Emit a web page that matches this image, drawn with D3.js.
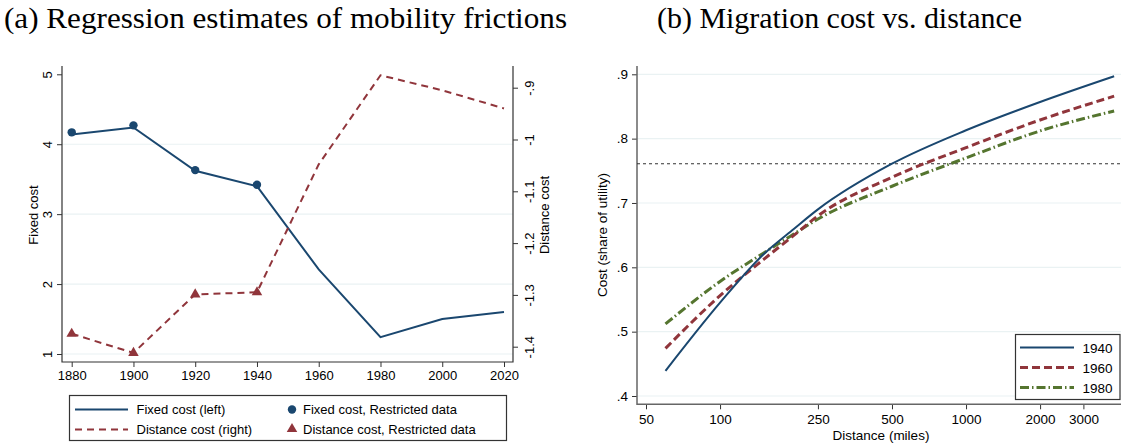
<!DOCTYPE html>
<html>
    <head>
        <meta charset="utf-8">
        <style>
            html, body {
                margin: 0px;
                padding: 0px;
                background-color: #fff;
            }
            svg text {
                font-family: "Liberation Sans", Arial, sans-serif;
                fill: #000;
            }
            svg text.title {
                font-family: "Liberation Serif", "DejaVu Serif", serif;
                font-size: 30px;
            }
            .tick line { stroke: #333; }
            .grid line { stroke: #eaf2f3; stroke-width: 1.2; }
        </style>
        <script src="https://d3js.org/d3.v7.min.js"></script>
    </head>
    <body>
        <div id="main"></div>
        <script>
            // panel (a): regression estimates
            var years = [1880, 1900, 1920, 1940, 1960, 1980, 2000, 2020];
            var fixedCost = [4.14, 4.24, 3.62, 3.40, 2.21, 1.24, 1.50, 1.60];
            var distanceCost = [-1.375, -1.412, -1.299, -1.295, -1.048, -0.876, -0.905, -0.94];
            var restrictedYears = [1880, 1900, 1920, 1940];
            var fixedRestricted = [4.17, 4.27, 3.63, 3.42];
            var distanceRestricted = [-1.375, -1.412, -1.299, -1.295];
            var leftTicks = [1, 2, 3, 4, 5];
            var rightTicks = [-1.4, -1.3, -1.2, -1.1, -1, -0.9];

            // panel (b): migration cost by distance
            var distances = [60, 100, 150, 200, 250, 500, 1000, 2000, 4000];
            var cost1940 = [0.439, 0.545, 0.620, 0.660, 0.690, 0.761, 0.813, 0.857, 0.897];
            var cost1960 = [0.474, 0.556, 0.612, 0.650, 0.680, 0.740, 0.786, 0.829, 0.866];
            var cost1980 = [0.512, 0.578, 0.622, 0.652, 0.675, 0.726, 0.770, 0.812, 0.843];
            var costRef = 0.761;
            var costTicks = [0.4, 0.5, 0.6, 0.7, 0.8, 0.9];
            var distTicks = [50, 100, 250, 500, 1000, 2000, 3000];
            var legendYears = ["1940", "1960", "1980"];

            var width = 1121;
            var height = 446;
            var navy = "#1a476f", maroon = "#90353b", green = "#55752f";

            // stata style: drop the leading zero
            function fmtDot(v) {
                var s = String(+v.toFixed(2));
                return s.replace(/^(-?)0\./, "$1.");
            }

            function panelA(svg) {
                var x = d3.scaleLinear().domain([1880, 2020]).range([71.7, 504]);
                var yL = d3.scaleLinear().domain([1, 5]).range([354, 74.3]);
                var yR = d3.scaleLinear().domain([-1.4, -0.9]).range([346.7, 87.7]);
                var left = 62, right = 513, top = 66, bottom = 362;

                svg.append("g").attr("class", "grid")
                    .selectAll("line").data([1, 2, 3, 4]).enter().append("line")
                    .attr("x1", left).attr("x2", right)
                    .attr("y1", function(d) { return yL(d); })
                    .attr("y2", function(d) { return yL(d); });

                var ax = svg.append("g").attr("transform", "translate(" + left + ",0)")
                    .call(d3.axisLeft(yL).tickValues(leftTicks).tickSize(5).tickFormat(d3.format("d")));
                ax.select(".domain").remove();
                ax.selectAll("text").attr("transform", "rotate(-90)")
                    .attr("x", 0).attr("y", -10).attr("dy", 0)
                    .style("text-anchor", "middle").style("font-size", "13px");

                var ar = svg.append("g").attr("transform", "translate(" + right + ",0)")
                    .call(d3.axisRight(yR).tickValues(rightTicks).tickSize(5).tickFormat(fmtDot));
                ar.select(".domain").remove();
                ar.selectAll("text").attr("transform", "rotate(-90)")
                    .attr("x", 0).attr("y", 21).attr("dy", 0)
                    .style("text-anchor", "middle").style("font-size", "13px");

                var ab = svg.append("g").attr("transform", "translate(0," + bottom + ")")
                    .call(d3.axisBottom(x).tickValues(years).tickSize(5).tickFormat(d3.format("d")));
                ab.select(".domain").remove();
                ab.selectAll("text").attr("y", 9).style("font-size", "13px");

                svg.append("path")
                    .attr("d", "M" + left + "," + top + "V" + bottom + "H" + right + "V" + top)
                    .attr("fill", "none").attr("stroke", "#333").attr("stroke-width", 1.2);

                var fixedLine = d3.line()
                    .x(function(d, i) { return x(years[i]); })
                    .y(function(d) { return yL(d); });
                var distLine = d3.line()
                    .x(function(d, i) { return x(years[i]); })
                    .y(function(d) { return yR(d); });

                svg.append("path").datum(fixedCost).attr("d", fixedLine)
                    .attr("fill", "none").attr("stroke", navy).attr("stroke-width", 2);
                svg.append("path").datum(distanceCost).attr("d", distLine)
                    .attr("fill", "none").attr("stroke", maroon).attr("stroke-width", 2)
                    .attr("stroke-dasharray", "7,5");

                svg.selectAll(".fixdot").data(fixedRestricted).enter().append("circle")
                    .attr("cx", function(d, i) { return x(restrictedYears[i]); })
                    .attr("cy", function(d) { return yL(d); })
                    .attr("r", 4.2).attr("fill", navy);

                var tri = d3.symbol().type(d3.symbolTriangle).size(48);
                svg.selectAll(".distTri").data(distanceRestricted).enter().append("path")
                    .attr("d", tri)
                    .attr("transform", function(d, i) { return "translate(" + x(restrictedYears[i]) + "," + yR(d) + ")"; })
                    .attr("fill", maroon);

                svg.append("text")
                    .attr("transform", "translate(37.5,215) rotate(-90)")
                    .style("text-anchor", "middle").style("font-size", "13px")
                    .text("Fixed cost");
                svg.append("text")
                    .attr("transform", "translate(549,215) rotate(-90)")
                    .style("text-anchor", "middle").style("font-size", "13px")
                    .text("Distance cost");

                svg.append("text").attr("class", "title")
                    .attr("x", 4).attr("y", 28)
                    .attr("textLength", 563).attr("lengthAdjust", "spacingAndGlyphs")
                    .text("(a) Regression estimates of mobility frictions");

                // legend
                var lg = svg.append("g");
                lg.append("rect").attr("x", 69.5).attr("y", 395.5).attr("width", 437).attr("height", 45)
                    .attr("fill", "#fff").attr("stroke", "#333").attr("stroke-width", 1.2);
                lg.append("line").attr("x1", 75).attr("x2", 128).attr("y1", 409.5).attr("y2", 409.5)
                    .attr("stroke", navy).attr("stroke-width", 2);
                lg.append("line").attr("x1", 75).attr("x2", 128).attr("y1", 429.5).attr("y2", 429.5)
                    .attr("stroke", maroon).attr("stroke-width", 2).attr("stroke-dasharray", "7,5");
                lg.append("circle").attr("cx", 292).attr("cy", 409.5).attr("r", 4.2).attr("fill", navy);
                lg.append("path").attr("d", tri).attr("transform", "translate(292,429)").attr("fill", maroon);
                var labels = [
                    [136.5, 414, "Fixed cost (left)"],
                    [136.5, 434, "Distance cost (right)"],
                    [303, 414, "Fixed cost, Restricted data"],
                    [303, 434, "Distance cost, Restricted data"]
                ];
                lg.selectAll("text").data(labels).enter().append("text")
                    .attr("x", function(d) { return d[0]; })
                    .attr("y", function(d) { return d[1]; })
                    .style("font-size", "13px")
                    .text(function(d) { return d[2]; });
            }

            function panelB(svg) {
                var x = d3.scaleLog().domain([50, 3000]).range([646, 1083.4]);
                var y = d3.scaleLinear().domain([0.4, 0.9]).range([396, 74.3]);
                var left = 637, right = 1121, top = 66, bottom = 404.3;

                svg.append("g").attr("class", "grid")
                    .selectAll("line").data(costTicks).enter().append("line")
                    .attr("x1", left).attr("x2", right)
                    .attr("y1", function(d) { return y(d); })
                    .attr("y2", function(d) { return y(d); });

                var ay = svg.append("g").attr("transform", "translate(" + left + ",0)")
                    .call(d3.axisLeft(y).tickValues(costTicks).tickSize(5).tickFormat(fmtDot));
                ay.select(".domain").remove();
                ay.selectAll("text").attr("x", -9).style("font-size", "13.5px");

                var ax = svg.append("g").attr("transform", "translate(0," + bottom + ")")
                    .call(d3.axisBottom(x).tickValues(distTicks).tickSize(5).tickFormat(d3.format("d")));
                ax.select(".domain").remove();
                ax.selectAll("text").attr("y", 10).style("font-size", "13.5px");

                svg.append("path")
                    .attr("d", "M" + left + "," + top + "V" + bottom + "H" + right)
                    .attr("fill", "none").attr("stroke", "#666").attr("stroke-width", 1.5);

                svg.append("line")
                    .attr("x1", left).attr("x2", right)
                    .attr("y1", y(costRef)).attr("y2", y(costRef))
                    .attr("stroke", "#333").attr("stroke-width", 1.2).attr("stroke-dasharray", "3,3");

                var line = d3.line().curve(d3.curveMonotoneX)
                    .x(function(d, i) { return x(distances[i]); })
                    .y(function(d) { return y(d); });

                var series = [
                    { v: cost1980, c: green, w: 3, dash: "9,3,1.5,3" },
                    { v: cost1960, c: maroon, w: 3, dash: "8,4" },
                    { v: cost1940, c: navy, w: 2, dash: null }
                ];
                series.forEach(function(s) {
                    svg.append("path").datum(s.v).attr("d", line)
                        .attr("fill", "none").attr("stroke", s.c)
                        .attr("stroke-width", s.w)
                        .attr("stroke-dasharray", s.dash);
                });

                svg.append("text")
                    .attr("transform", "translate(607,235) rotate(-90)")
                    .style("text-anchor", "middle").style("font-size", "13.5px")
                    .text("Cost (share of utility)");
                svg.append("text")
                    .attr("x", 881).attr("y", 440)
                    .style("text-anchor", "middle").style("font-size", "13.5px")
                    .text("Distance (miles)");

                svg.append("text").attr("class", "title")
                    .attr("x", 657).attr("y", 28)
                    .attr("textLength", 365).attr("lengthAdjust", "spacingAndGlyphs")
                    .text("(b) Migration cost vs. distance");

                var lg = svg.append("g");
                lg.append("rect").attr("x", 1015.5).attr("y", 334.5).attr("width", 104.5).attr("height", 65)
                    .attr("fill", "#fff").attr("stroke", "#333").attr("stroke-width", 1.2);
                var sty = [
                    { c: navy, w: 2, dash: null },
                    { c: maroon, w: 3, dash: "8,4" },
                    { c: green, w: 3, dash: "9,3,1.5,3" }
                ];
                legendYears.forEach(function(name, i) {
                    var ly = 347.5 + i * 20;
                    lg.append("line").attr("x1", 1020).attr("x2", 1074).attr("y1", ly).attr("y2", ly)
                        .attr("stroke", sty[i].c).attr("stroke-width", sty[i].w)
                        .attr("stroke-dasharray", sty[i].dash);
                    lg.append("text").attr("x", 1082.5).attr("y", ly + 5)
                        .style("font-size", "13.5px").text(name);
                });
            }

            function main() {
                var svg = d3.select("#main")
                            .append("svg")
                            .attr("width", width)
                            .attr("height", height);
                panelA(svg);
                panelB(svg);
            }

            main();
        </script>
    </body>
</html>
